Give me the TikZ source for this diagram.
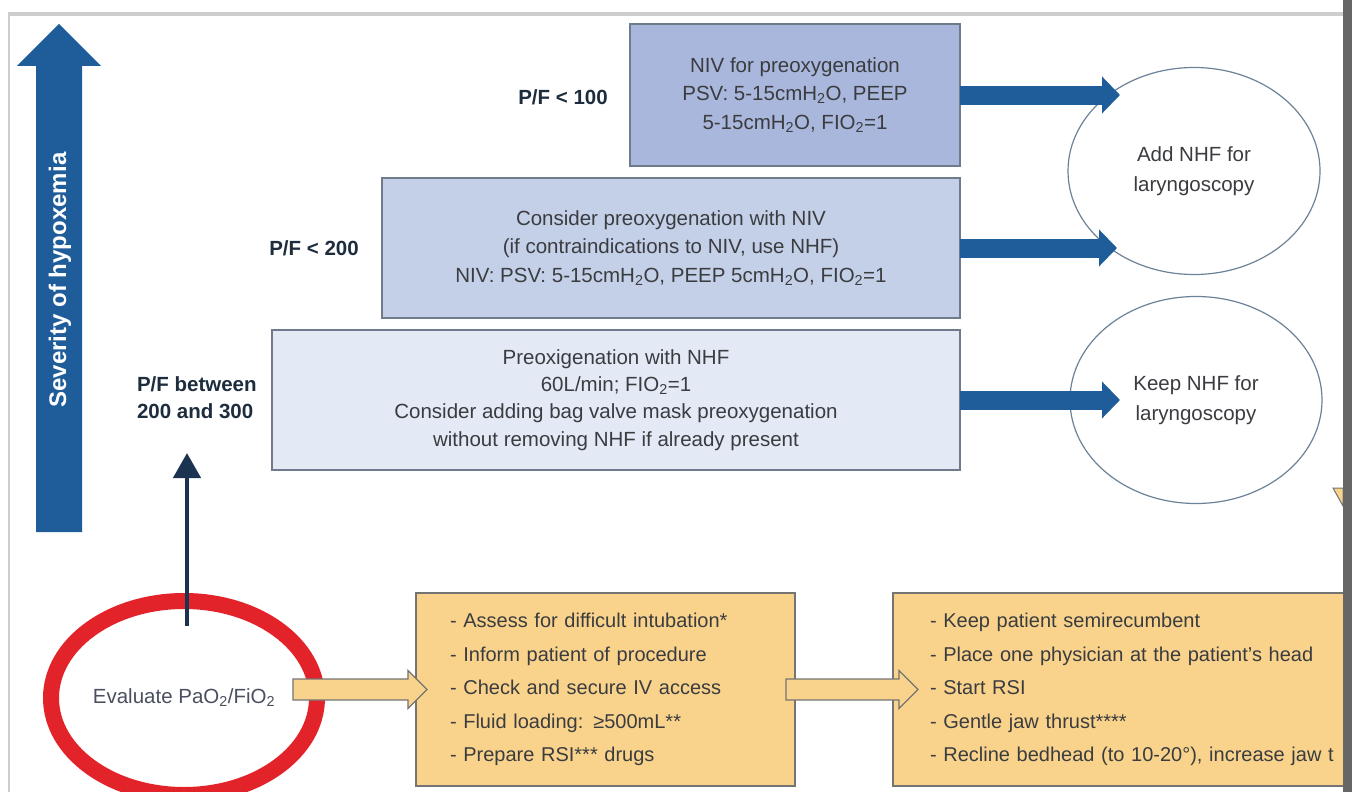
\documentclass[tikz,border=0pt]{standalone}
\usepackage{fontspec}
\setmainfont{Liberation Sans}
\usetikzlibrary{arrows.meta,shapes.geometric,calc}
\definecolor{sevblue}{HTML}{1F5C9A}
\definecolor{boxline}{HTML}{6F7B8B}
\definecolor{fillA}{HTML}{A9B7DC}
\definecolor{fillB}{HTML}{C4D0E8}
\definecolor{fillC}{HTML}{E3E9F5}
\definecolor{txt}{HTML}{3A3C40}
\definecolor{pftxt}{HTML}{1E2D3E}
\definecolor{ellline}{HTML}{6C8299}
\definecolor{evalred}{HTML}{E2232A}
\definecolor{evaltxt}{HTML}{4A5060}
\definecolor{navy}{HTML}{1B3350}
\definecolor{yfill}{HTML}{F9D38B}
\definecolor{yline}{HTML}{747474}
\definecolor{framegray}{HTML}{CDCDCD}
\definecolor{bargray}{HTML}{666666}
\newcommand\hollowarrow[2]{%
  \draw[yarrow] let \p1=(#1), \p2=(#2) in
    (\x1,\y1+10.5) -- (\x2-19,\y1+10.5) -- (\x2-19,\y1+19) -- (\x2,\y1)
    -- (\x2-19,\y1-19) -- (\x2-19,\y1-10.5) -- (\x1,\y1-10.5) -- cycle;}
\begin{document}
\begin{tikzpicture}[x=1pt,y=-1pt,
  every node/.style={inner sep=0pt, outer sep=0pt, text=txt},
  bbox/.style={draw=boxline, line width=2pt, align=center,
    font=\fontsize{20.5}{28.5}\selectfont},
  ybox/.style={draw=yline, fill=yfill, line width=1.5pt, align=left,
    anchor=north west, minimum height=193pt,
    font=\fontsize{20}{33.5}\selectfont},
  pflab/.style={text=pftxt, font=\bfseries\fontsize{20.5}{27}\selectfont},
  outell/.style={ellipse, draw=ellline, line width=1.2pt, fill=white,
    minimum width=252pt, minimum height=207pt, align=center,
    font=\fontsize{20.5}{30}\selectfont},
  bluearr/.style={draw=sevblue, line width=19pt,
    -{Triangle[length=18pt,width=36pt]}},
  navyarr/.style={draw=navy, line width=4.5pt,
    -{Triangle[length=25pt,width=27pt]}},
  yarrow/.style={draw=yline, fill=yfill, line width=1.2pt, line join=miter}
]
\useasboundingbox (0,0) rectangle (1352,792);
\fill[white] (0,0) rectangle (1352,792);
% frame
\draw[framegray, line width=4pt] (8,14) -- (1343,14);
\draw[framegray, line width=2pt] (9,14) -- (9,792);

% severity arrow
\fill[sevblue] (36,532) -- (36,66) -- (17,66) -- (59,24) -- (101,66)
  -- (82,66) -- (82,532) -- cycle;
\node[rotate=90, text=white, font=\bfseries\fontsize{24}{24}\selectfont]
  (sev) at (60,280) {Severity of hypoxemia};

% blue boxes
\node[bbox, fill=fillA, minimum width=330pt, minimum height=142pt] (niv) at (795,95)
  {NIV for preoxygenation\\PSV: 5-15cmH\textsubscript{2}O, PEEP\\5-15cmH\textsubscript{2}O, FIO\textsubscript{2}=1};
\node[bbox, fill=fillB, minimum width=578pt, minimum height=140pt] (cniv) at (671,248)
  {Consider preoxygenation with NIV\\(if contraindications to NIV, use NHF)\\NIV: PSV: 5-15cmH\textsubscript{2}O, PEEP 5cmH\textsubscript{2}O, FIO\textsubscript{2}=1};
\node[bbox, fill=fillC, minimum width=688pt, minimum height=140pt,
  font=\fontsize{20.5}{27.3}\selectfont] (nhf) at (616,400)
  {Preoxigenation with NHF\\60L/min; FIO\textsubscript{2}=1\\Consider adding bag valve mask preoxygenation\\without removing NHF if already present};

% labels
\node[pflab] (pf100) at (563,97) {P/F < 100};
\node[pflab] (pf200) at (314,248) {P/F < 200};
\node[pflab, align=left, anchor=west] (pf300) at (137,398) {P/F between\\200 and 300};

% outcome ellipses
\node[outell] (add) at (1194,171) {Add NHF for\\laryngoscopy};
\node[outell] (keep) at (1196,400) {Keep NHF for\\laryngoscopy};

% blue arrows
\coordinate (t1) at (1120,95);
\coordinate (t2) at (1117,248);
\coordinate (t3) at (1120,400);
\draw[bluearr] (niv.east) -- (t1);
\draw[bluearr] (cniv.east) -- (t2);
\draw[bluearr] (nhf.east) -- (t3);

% yellow boxes
\node[ybox, minimum width=379pt, inner xsep=34pt, text width=311pt] (prep) at (416,593)
  {- Assess for difficult intubation*\\- Inform patient of procedure\\- Check and secure IV access\\- Fluid loading: ≥500mL**\\- Prepare RSI*** drugs};
\node[ybox, minimum width=520pt, inner xsep=37pt, text width=446pt] (proc) at (893,593)
  {- Keep patient semirecumbent\\- Place one physician at the patient’s head\\- Start RSI\\- Gentle jaw thrust****\\- Recline bedhead (to 10-20°), increase jaw t};

% evaluate ellipse
\node[ellipse, draw=evalred, line width=16pt, minimum width=266pt, minimum height=194pt,
  text=evaltxt, font=\fontsize{20.5}{24}\selectfont] (eval) at (184,698)
  {Evaluate PaO\textsubscript{2}/FiO\textsubscript{2}};

% navy arrow
\coordinate (navytip) at (187,453);
\draw[navyarr] ($(eval.north)+(3,25)$) -- (navytip);

% hollow yellow arrows
\hollowarrow{$(eval.east)+(-24,-8.5)$}{$(prep.west)+(11,0)$}
\hollowarrow{$(prep.east)+(-9,0)$}{$(proc.west)+(25,0)$}

% small partial triangle at right edge
\filldraw[fill=yfill, draw=yline, line width=1pt] (1333,488) -- (1343,488) -- (1343,506) -- cycle;

% right dark bar
\fill[bargray] (1343,0) rectangle (1352,792);
\end{tikzpicture}
\end{document}
